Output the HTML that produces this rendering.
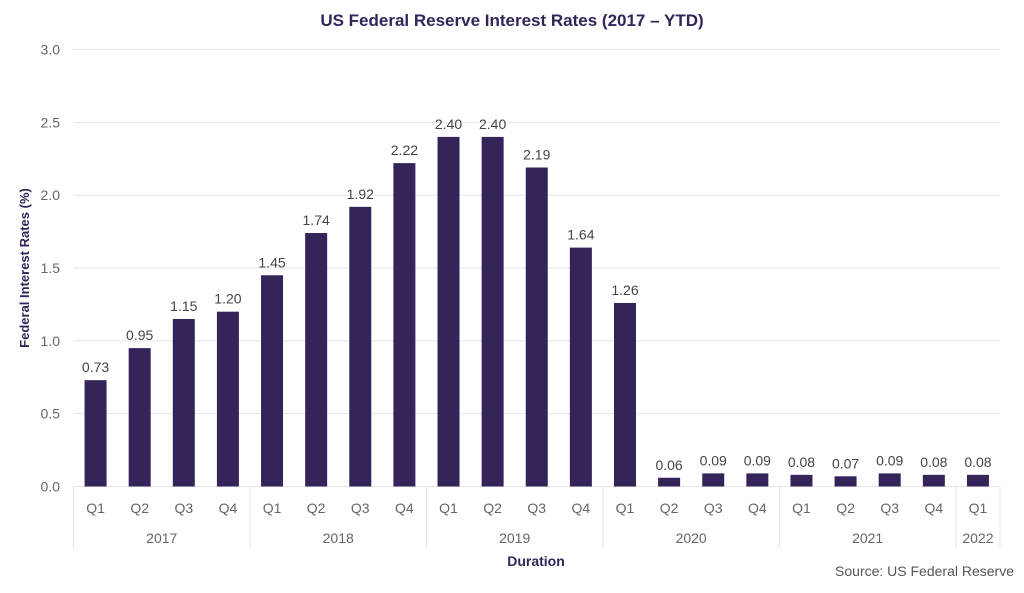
<!DOCTYPE html>
<html><head><meta charset="utf-8"><style>
body{margin:0;background:#fff;width:1024px;height:588px;overflow:hidden;font-family:"Liberation Sans",sans-serif}
</style></head><body>
<svg id="chart" width="1024" height="588" xmlns="http://www.w3.org/2000/svg">
<text x="512" y="26" text-anchor="middle" font-size="17" font-weight="bold" fill="#33245a">US Federal Reserve Interest Rates (2017 – YTD)</text>
<text transform="translate(29,268) rotate(-90)" text-anchor="middle" font-size="13" font-weight="bold" fill="#33245a">Federal Interest Rates (%)</text>
<text x="536" y="566" text-anchor="middle" font-size="14" font-weight="bold" fill="#33245a">Duration</text>
<text x="1014" y="576" text-anchor="end" font-size="14" fill="#555">Source: US Federal Reserve</text>
<g id="grid"></g><g id="bars"></g><g id="xaxis"></g>
</svg>
<script>
const quarters=["Q1","Q2","Q3","Q4","Q1","Q2","Q3","Q4","Q1","Q2","Q3","Q4","Q1","Q2","Q3","Q4","Q1","Q2","Q3","Q4","Q1"];
const rates=[0.73,0.95,1.15,1.20,1.45,1.74,1.92,2.22,2.40,2.40,2.19,1.64,1.26,0.06,0.09,0.09,0.08,0.07,0.09,0.08,0.08];
const years=["2017","2018","2019","2020","2021","2022"];
const yearCounts=[4,4,4,4,4,1];
const yTicks=[0,0.5,1,1.5,2,2.5,3];
const NS="http://www.w3.org/2000/svg";
const x0=73.5,x1=1000,yBase=486.5,yTop=49.5,yMax=3;
const step=(x1-x0)/quarters.length;
function yS(v){return yBase-(v/yMax)*(yBase-yTop);}
function xC(i){return x0+step*(i+0.5);}
function mk(t,a,p,txt){const e=document.createElementNS(NS,t);for(const k in a)e.setAttribute(k,a[k]);if(txt!==undefined)e.textContent=txt;p.appendChild(e);return e;}
const grid=document.getElementById('grid'),bars=document.getElementById('bars'),xa=document.getElementById('xaxis');
yTicks.forEach(v=>{
 const l=mk('line',{x1:x0,x2:x1,y1:yS(v),y2:yS(v),stroke:'#e4e4e4','stroke-width':1},grid);
 
 
 const t=mk('text',{x:60,y:yS(v)+5,'text-anchor':'end','font-size':14,fill:'#666'},grid,v.toFixed(1));
 
 
});
rates.forEach((v,i)=>{
 const r=mk('rect',{x:xC(i)-11,y:yS(v),width:22,height:yBase-yS(v),fill:'#35245a'},bars);
 
 
 const t=mk('text',{x:xC(i),y:yS(v)-8,'text-anchor':'middle','font-size':14,fill:'#444'},bars,v.toFixed(2));
 
 
 const q=mk('text',{x:xC(i),y:513,'text-anchor':'middle','font-size':14,fill:'#666'},xa,quarters[i]);
 
 
});
let idx=0;
const sep=i=>{const l=mk('line',{x1:x0+step*i,x2:x0+step*i,y1:yBase,y2:548,stroke:'#e4e4e4','stroke-width':1},xa);
 
 };
sep(0);
years.forEach((y,k)=>{
 const s=idx,e=idx+yearCounts[k];
 const t=mk('text',{x:x0+step*(s+e)/2,y:543,'text-anchor':'middle','font-size':14,fill:'#666'},xa,y);
 
 
 idx=e;sep(idx);
});
</script>
</body></html>
